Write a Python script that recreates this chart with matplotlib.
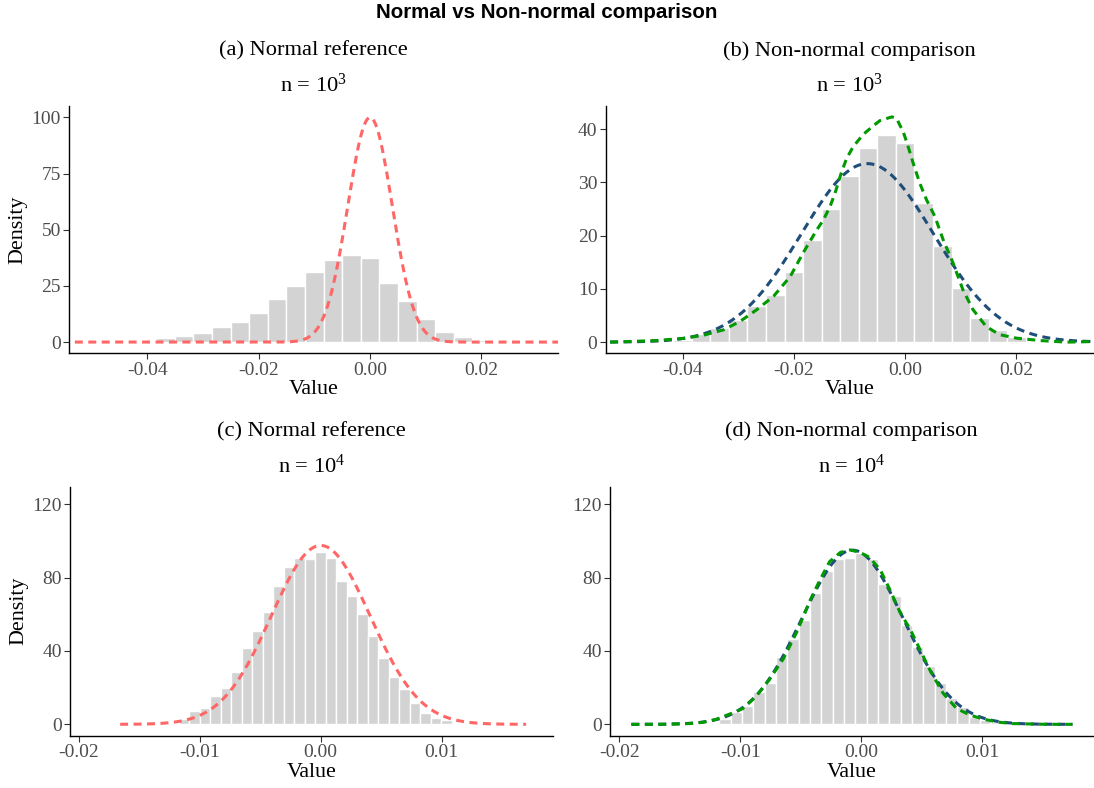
import numpy as np
import matplotlib
matplotlib.use('Agg')
import matplotlib.pyplot as plt

plt.rcParams['font.family'] = ['Liberation Serif', 'DejaVu Serif']
plt.rcParams['mathtext.fontset'] = 'custom'
plt.rcParams['mathtext.rm'] = 'Liberation Serif'

# ---- data ----
# n = 10^3 sample (same histogram in panels a and b)
bw_small = 0.00334
idx_small = np.arange(-12, 7)
dens_small = [0.4, 1.6, 2.6, 4.1, 6.8, 8.9, 13.1, 19.1, 25.0, 31.2, 36.4,
              38.9, 37.4, 26.1, 18.1, 10.2, 4.6, 2.2, 0.9]

# n = 10^4 samples
bw_c = 0.000869
idx_c = np.arange(-14, 14)
dens_c = [0.8, 2.7, 7.3, 8.7, 15.3, 19.8, 28.5, 41.8, 50.9, 61.3, 75.5, 85.8,
          90.9, 90.2, 94.2, 90.9, 78.2, 70.0, 60.4, 48.4, 36.2, 25.8, 19.3,
          11.8, 6.4, 3.3, 2.4, 0.7]

bw_d = 0.000938
idx_d = np.arange(-13, 14)
dens_d = [0.9, 3.1, 6.5, 10.0, 17.5, 22.4, 36.5, 46.4, 56.7, 71.8, 83.6, 90.2,
          90.7, 93.6, 90.4, 76.7, 70.0, 54.4, 42.4, 32.0, 22.7, 14.2, 9.6,
          4.2, 2.5, 1.1, 0.4]

# normal curves (mean, sd, x range)
norm_a = (0.0, 0.00399, -0.0530, 0.0338)
norm_b = (-0.0068, 0.0119, -0.0531, 0.0338)
norm_c = (0.0, 0.00409, -0.0166, 0.0170)
norm_d = (-0.0007, 0.0042, -0.0190, 0.0175)

# kernel density (green) curves
kde_x_b = [-0.0531, -0.0447, -0.0399, -0.0363, -0.0327, -0.0297, -0.0267,
           -0.0237, -0.0207, -0.0184, -0.0159, -0.01475, -0.01355, -0.01265,
           -0.01144, -0.01054, -0.00936, -0.00756, -0.00576, -0.00455, -0.0024,
           -0.00155, -0.00036, 0.00036, 0.00144, 0.00264, 0.00385, 0.00534,
           0.00684, 0.00864, 0.0104, 0.0122, 0.0146, 0.0170, 0.0200, 0.0242,
           0.029, 0.0338]
kde_y_b = [0.0, 0.3, 0.7, 1.3, 2.3, 3.9, 6.1, 8.6, 12.3, 16.7, 21.1, 22.9,
           25.4, 27.9, 32.0, 34.5, 36.7, 39.0, 40.6, 41.6, 42.3, 42.0, 39.5,
           37.3, 33.6, 29.8, 26.7, 23.6, 19.2, 14.8, 9.8, 6.1, 2.9, 1.4, 0.75,
           0.3, 0.0, 0.1]

kde_x_d = [-0.0190, -0.0164, -0.0142, -0.0131, -0.0120, -0.0109, -0.0098,
           -0.0087, -0.0076, -0.0064, -0.0053, -0.0042, -0.0034, -0.0026,
           -0.0017, -0.0009, -0.0001, 0.0007, 0.0016, 0.0024, 0.0032, 0.0041,
           0.0049, 0.0057, 0.0068, 0.0079, 0.0090, 0.0102, 0.0115, 0.0126,
           0.0154, 0.0175]
kde_y_d = [0.0, 0.0, 0.4, 1.1, 2.7, 5.5, 8.5, 15.1, 24.2, 36.0, 50.5, 67.8,
           78.7, 88.7, 93.8, 95.1, 93.8, 91.1, 84.2, 73.3, 61.5, 51.5, 40.5,
           29.6, 16.9, 8.7, 5.1, 2.7, 1.1, 0.4, 0.0, 0.0]

titles = ['(a) Normal reference', '(b) Non-normal comparison',
          '(c) Normal reference', '(d) Non-normal comparison']
subtitles = [r'n = $\mathregular{10^{3}}$', r'n = $\mathregular{10^{3}}$',
             r'n = $\mathregular{10^{4}}$', r'n = $\mathregular{10^{4}}$']

xticks_top = [-0.04, -0.02, 0.0, 0.02]
xlabels_top = ['-0.04', '-0.02', '0.00', '0.02']
xticks_bot = [-0.02, -0.01, 0.0, 0.01]
xlabels_bot = ['-0.02', '-0.01', '0.00', '0.01']
yticks_a = [0, 25, 50, 75, 100]
yticks_b = [0, 10, 20, 30, 40]
yticks_cd = [0, 40, 80, 120]

RED = '#FF6666'
BLUE = '#1F4E79'
GREEN = '#009900'
BAR = '#D3D3D3'
DASH = (2.6, 1.8)


def normal_pdf(params, npts=300):
    mu, sd, x0, x1 = params
    x = np.linspace(x0, x1, npts)
    return x, np.exp(-0.5 * ((x - mu) / sd) ** 2) / (sd * np.sqrt(2 * np.pi))


def style_axis(ax, xt, xl, yt, xlim, ylim):
    ax.set_xlim(*xlim)
    ax.set_ylim(*ylim)
    ax.set_xticks(xt, xl)
    ax.set_yticks(yt, [str(v) for v in yt])
    for s in ['top', 'right']:
        ax.spines[s].set_visible(False)
    for s in ['left', 'bottom']:
        ax.spines[s].set_linewidth(1.0)
        ax.spines[s].set_color('black')
    ax.tick_params(length=4, width=0.8, color='#333333', labelcolor='#4D4D4D',
                   labelsize=14, pad=2)


fig = plt.figure(figsize=(10.94, 7.88), dpi=100)
W, H = 1094, 788
boxes = [(69.3, 105.7, 558.3, 353.3), (605.7, 105.7, 1093, 353.3),
         (70, 486.7, 553.3, 735.7), (610, 486.7, 1093, 735.7)]
axes = []
for (l, t, r, b) in boxes:
    axes.append(fig.add_axes([l / W, 1 - b / H, (r - l) / W, (b - t) / H]))
ax_a, ax_b, ax_c, ax_d = axes

# (a)
ax_a.bar(idx_small * bw_small, dens_small, width=bw_small, color=BAR,
         edgecolor='white', linewidth=1.0)
x, y = normal_pdf(norm_a)
ax_a.plot(x, y, color=RED, lw=2.2, dashes=DASH)
style_axis(ax_a, xticks_top, xlabels_top, yticks_a, (-0.0540, 0.0338), (-5.0, 105.2))

# (b)
ax_b.bar(idx_small * bw_small, dens_small, width=bw_small, color=BAR,
         edgecolor='white', linewidth=1.0)
x, y = normal_pdf(norm_b)
ax_b.plot(x, y, color=BLUE, lw=2.2, dashes=DASH)
ax_b.plot(kde_x_b, kde_y_b, color=GREEN, lw=2.2, dashes=DASH)
style_axis(ax_b, xticks_top, xlabels_top, yticks_b, (-0.0539, 0.0338), (-2.1, 44.4))

# (c)
ax_c.bar(idx_c * bw_c, dens_c, width=bw_c, color=BAR, edgecolor='white',
         linewidth=1.0)
x, y = normal_pdf(norm_c)
ax_c.plot(x, y, color=RED, lw=2.2, dashes=DASH)
style_axis(ax_c, xticks_bot, xlabels_bot, yticks_cd, (-0.02075, 0.01925), (-6.2, 129.6))

# (d)
ax_d.bar(idx_d * bw_d, dens_d, width=bw_d, color=BAR, edgecolor='white',
         linewidth=1.0)
x, y = normal_pdf(norm_d)
ax_d.plot(x, y, color=BLUE, lw=2.2, dashes=DASH)
ax_d.plot(kde_x_d, kde_y_d, color=GREEN, lw=2.2, dashes=DASH)
style_axis(ax_d, xticks_bot, xlabels_bot, yticks_cd, (-0.02077, 0.0192), (-6.2, 129.6))

for i, ax in enumerate(axes):
    ax.text(0.5, 1.222, titles[i], transform=ax.transAxes, ha='center',
            va='center', fontsize=16.2, color='black')
    ax.text(0.5, 1.082, subtitles[i], transform=ax.transAxes, ha='center',
            va='center', fontsize=16.2, color='black')
    ax.set_xlabel('Value', fontsize=15.8)
    ax.xaxis.label.set_va('center')
    ax.xaxis.set_label_coords(0.5, -0.148)

for ax in (ax_a, ax_c):
    ax.set_ylabel('Density', fontsize=15.8)
    ax.yaxis.label.set_va('center')
    ax.yaxis.label.set_ha('center')
    ax.yaxis.set_label_coords(-0.106, 0.5)

fig.text(0.5, 1 - 12 / H, 'Normal vs Non-normal comparison', ha='center',
         va='center', fontsize=14.8, fontweight='bold', family='Liberation Sans')

fig.savefig('out.png', dpi=100)
